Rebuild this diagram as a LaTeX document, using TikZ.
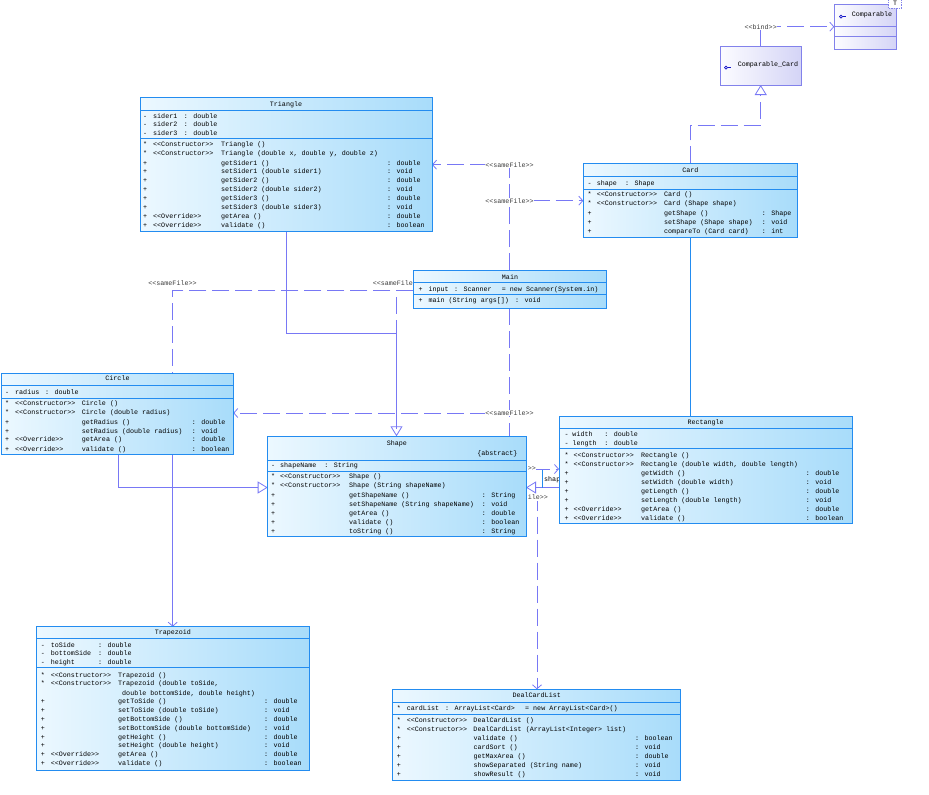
\documentclass[tikz,border=0pt]{standalone}
\usepackage{fontspec}
\newfontfamily\umlf{Liberation Mono}
\usetikzlibrary{arrows.meta}
\pgfdeclarelayer{bg}
\pgfsetlayers{bg,main}
\definecolor{boxA}{RGB}{236,248,255}
\definecolor{boxB}{RGB}{168,220,250}
\definecolor{boxD}{RGB}{35,140,240}
\definecolor{lavA}{RGB}{252,252,255}
\definecolor{lavB}{RGB}{212,212,246}
\definecolor{lavD}{RGB}{130,130,235}
\definecolor{connc}{RGB}{120,120,245}
\definecolor{lblc}{RGB}{60,60,60}
\definecolor{iconc}{RGB}{20,20,200}
\newcounter{tn}
\newcommand\sopn{<\kern0pt<}
\newcommand\sclo{>\kern0pt>}
\newcommand\setcolsx[4]{\def\ucA{#1}\def\ucB{#2}\def\ucC{#3}\def\ucD{#4}}
\newcommand\umlrow[5]{\stepcounter{tn}\node[txt] (r\thetn) at (\ucA,#1+2.3) {\makebox[\dimexpr\ucB pt-\ucA pt\relax][l]{#2}\makebox[\dimexpr\ucC pt-\ucB pt\relax][l]{#3}\makebox[\dimexpr\ucD pt-\ucC pt\relax][l]{#4}#5};}
\newcommand\umlclass[7]{\node[cls, minimum width={#4-#2}, minimum height={#5-#3}] (#1) at (#2,#3) {};
 \node[txt, anchor=base] (#1-title) at ({(#2+#4)/2},#7+2.3) {#6};}
\newcommand\sepx[3]{\draw[sepl] (#1,#3) -- (#2,#3);}
\tikzset{
 cls/.style={draw=boxD, line width=0.9pt, left color=boxA, right color=boxB, inner sep=0pt, outer sep=0pt, anchor=north west},
 lav/.style={cls, draw=lavD, left color=lavA, right color=lavB},
 sepl/.style={draw=boxD, line width=0.9pt},
 lsepl/.style={draw=lavD, line width=0.9pt},
 txt/.style={font=\umlf\fontsize{6.7}{8}\selectfont, inner sep=0pt, anchor=base west, text=black},
 lbl/.style={font=\umlf\fontsize{6.7}{8}\selectfont, text=lblc, fill=white, inner sep=0.6pt, anchor=center},
 cline/.style={draw=connc, line width=0.8pt},
 dep/.style={cline, dash pattern=on 17pt off 6pt, -{Straight Barb[length=4pt,width=9pt]}},
 depl/.style={cline, dash pattern=on 17pt off 6pt},
 openarr/.style={cline, -{Straight Barb[length=4pt,width=9pt]}},
 gen/.style={cline, -{Triangle[length=10pt,width=12pt,fill=white]}},
 real/.style={gen, dash pattern=on 17pt off 6pt},
 assoc/.style={draw=boxD, line width=0.8pt},
 icon/.style={draw=iconc, line width=0.7pt}
}
\begin{document}
\begin{tikzpicture}[x=1pt,y=-1pt]
\useasboundingbox (0,0) rectangle (929,795);

% ---------- Triangle
\umlclass{tri}{140}{97}{432}{231}{Triangle}{104}
\sepx{140}{432}{110}\sepx{140}{432}{138}
\setcolsx{143}{153}{183.7}{300}
\umlrow{115.7}{-}{sider1}{: double}{}
\umlrow{124.3}{-}{sider2}{: double}{}
\umlrow{133.3}{-}{sider3}{: double}{}
\setcolsx{143}{153}{221}{387}
\umlrow{144.3}{*}{\sopn Constructor\sclo}{Triangle ()}{}
\umlrow{153.3}{*}{\sopn Constructor\sclo}{Triangle (double x, double y, double z)}{}
\umlrow{162.7}{+}{}{getSider1 ()}{: double}
\umlrow{171.3}{+}{}{setSider1 (double sider1)}{: void}
\umlrow{180.3}{+}{}{getSider2 ()}{: double}
\umlrow{189.3}{+}{}{setSider2 (double sider2)}{: void}
\umlrow{198}{+}{}{getSider3 ()}{: double}
\umlrow{207}{+}{}{setSider3 (double sider3)}{: void}
\umlrow{216.3}{+}{\sopn Override\sclo}{getArea ()}{: double}
\umlrow{225}{+}{\sopn Override\sclo}{validate ()}{: boolean}

% ---------- Card
\umlclass{card}{583.3}{163.3}{797.3}{237.3}{Card}{170}
\sepx{583.3}{797.3}{176.7}\sepx{583.3}{797.3}{189.3}
\setcolsx{587.3}{596.7}{625}{700}
\umlrow{182.7}{-}{shape}{: Shape}{}
\setcolsx{587.3}{596.7}{664}{761.7}
\umlrow{194}{*}{\sopn Constructor\sclo}{Card ()}{}
\umlrow{203.3}{*}{\sopn Constructor\sclo}{Card (Shape shape)}{}
\umlrow{212.7}{+}{}{getShape ()}{: Shape}
\umlrow{221.7}{+}{}{setShape (Shape shape)}{: void}
\umlrow{230.7}{+}{}{compareTo (Card card)}{: int}

% ---------- Main
\umlclass{main}{413.3}{270}{606.7}{308.3}{Main}{276.7}
\sepx{413.3}{606.7}{282.3}\sepx{413.3}{606.7}{294.3}
\setcolsx{418.3}{428.3}{454}{501.7}
\umlrow{289}{+}{input}{: Scanner}{= new Scanner(System.in)}
\setcolsx{418.3}{428.3}{515}{600}
\umlrow{299.7}{+}{main (String args[])}{: void}{}

% ---------- Circle
\umlclass{circ}{1.7}{373.3}{233.3}{454.3}{Circle}{378.3}
\sepx{1.7}{233.3}{385.7}\sepx{1.7}{233.3}{398.3}
\setcolsx{5}{15}{45}{100}
\umlrow{391.7}{-}{radius}{: double}{}
\setcolsx{5}{15}{81.7}{191.7}
\umlrow{403.3}{*}{\sopn Constructor\sclo}{Circle ()}{}
\umlrow{412.3}{*}{\sopn Constructor\sclo}{Circle (double radius)}{}
\umlrow{421.7}{+}{}{getRadius ()}{: double}
\umlrow{430.7}{+}{}{setRadius (double radius)}{: void}
\umlrow{439.3}{+}{\sopn Override\sclo}{getArea ()}{: double}
\umlrow{448.7}{+}{\sopn Override\sclo}{validate ()}{: boolean}

% ---------- Shape
\umlclass{shp}{267.7}{436.3}{526}{536.3}{Shape}{442.7}
\node[txt, anchor=base east] (shp-abs) at (517.7,455) {\{abstract\}};
\sepx{267.7}{526}{460.3}\sepx{267.7}{526}{471}
\setcolsx{271}{280}{324.3}{400}
\umlrow{465.3}{-}{shapeName}{: String}{}
\setcolsx{271}{280}{349}{481.7}
\umlrow{476}{*}{\sopn Constructor\sclo}{Shape ()}{}
\umlrow{485}{*}{\sopn Constructor\sclo}{Shape (String shapeName)}{}
\umlrow{494.7}{+}{}{getShapeName ()}{: String}
\umlrow{503.7}{+}{}{setShapeName (String shapeName)}{: void}
\umlrow{512.7}{+}{}{getArea ()}{: double}
\umlrow{522}{+}{}{validate ()}{: boolean}
\umlrow{531.3}{+}{}{toString ()}{: String}

% ---------- Rectangle
\umlclass{rect}{559}{416}{852.3}{523}{Rectangle}{422}
\sepx{559}{852.3}{428.7}\sepx{559}{852.3}{448.7}
\setcolsx{564.3}{572.3}{604.3}{700}
\umlrow{433.7}{-}{width}{: double}{}
\umlrow{442.7}{-}{length}{: double}{}
\setcolsx{564.3}{573.3}{641}{805.7}
\umlrow{454.7}{*}{\sopn Constructor\sclo}{Rectangle ()}{}
\umlrow{464}{*}{\sopn Constructor\sclo}{Rectangle (double width, double length)}{}
\umlrow{472.7}{+}{}{getWidth ()}{: double}
\umlrow{482}{+}{}{setWidth (double width)}{: void}
\umlrow{491}{+}{}{getLength ()}{: double}
\umlrow{499.7}{+}{}{setLength (double length)}{: void}
\umlrow{508.7}{+}{\sopn Override\sclo}{getArea ()}{: double}
\umlrow{518}{+}{\sopn Override\sclo}{validate ()}{: boolean}

% ---------- Trapezoid
\umlclass{trap}{36.7}{626.7}{309}{770}{Trapezoid}{632.3}
\sepx{36.7}{309}{638}\sepx{36.7}{309}{667.3}
\setcolsx{40.7}{50.7}{98}{200}
\umlrow{644.7}{-}{toSide}{: double}{}
\umlrow{653.3}{-}{bottomSide}{: double}{}
\umlrow{662.3}{-}{height}{: double}{}
\setcolsx{40.7}{50.7}{118}{264}
\umlrow{674.7}{*}{\sopn Constructor\sclo}{Trapezoid ()}{}
\umlrow{683.3}{*}{\sopn Constructor\sclo}{Trapezoid (double toSide,}{}
\umlrow{692.7}{}{}{\ double bottomSide, double height)}{}
\umlrow{701.3}{+}{}{getToSide ()}{: double}
\umlrow{710}{+}{}{setToSide (double toSide)}{: void}
\umlrow{719}{+}{}{getBottomSide ()}{: double}
\umlrow{728}{+}{}{setBottomSide (double bottomSide)}{: void}
\umlrow{736.7}{+}{}{getHeight ()}{: double}
\umlrow{745}{+}{}{setHeight (double height)}{: void}
\umlrow{754}{+}{\sopn Override\sclo}{getArea ()}{: double}
\umlrow{763.3}{+}{\sopn Override\sclo}{validate ()}{: boolean}

% ---------- DealCardList
\umlclass{deal}{392.7}{689.3}{680.7}{780.3}{DealCardList}{695}
\sepx{392.7}{680.7}{702}\sepx{392.7}{680.7}{714.3}
\setcolsx{396.7}{406.7}{445}{525}
\umlrow{707.7}{*}{cardList}{: ArrayList<Card>}{= new ArrayList<Card>()}
\setcolsx{396.7}{406.7}{473.3}{635}
\umlrow{720}{*}{\sopn Constructor\sclo}{DealCardList ()}{}
\umlrow{728.7}{*}{\sopn Constructor\sclo}{DealCardList (ArrayList<Integer> list)}{}
\umlrow{738}{+}{}{validate ()}{: boolean}
\umlrow{747}{+}{}{cardSort ()}{: void}
\umlrow{756}{+}{}{getMaxArea ()}{: double}
\umlrow{765}{+}{}{showSeparated (String name)}{: void}
\umlrow{773.7}{+}{}{showResult ()}{: void}

% ---------- Comparable (interface)
\node[lav, minimum width=62.4, minimum height=45.3] (comp) at (834.3,4) {};
\draw[lsepl] (comp.west |- 0,26.7) -- (comp.east |- 0,26.7);
\draw[lsepl] (comp.west |- 0,36.7) -- (comp.east |- 0,36.7);
\node[txt, anchor=west] (comp-t) at (851.7,15) {Comparable};
\draw[icon] (841,16.7) circle[radius=1.5pt];
\draw[icon] (842.5,16.7) -- (846,16.7);
\node[draw=lavD, dash pattern=on 1.5pt off 1pt, fill=white, minimum width=13, minimum height=9, txt, anchor=center] (tpar) at (895,3.5) {T};

% ---------- Comparable_Card
\node[lav, minimum width=81, minimum height=39] (ccard) at (720.7,46) {};
\node[txt, anchor=west] (ccard-t) at (737.7,65) {Comparable\_Card};
\draw[icon] (726,67.7) circle[radius=1.5pt];
\draw[icon] (727.5,67.7) -- (731,67.7);

% ---------- connectors (behind boxes)
\begin{pgfonlayer}{bg}
\coordinate (k1) at (286,333);
\coordinate (k2) at (396.5,333);
\draw[gen] (k1 |- tri.south) -- (k1) -- (k2) -- (k2 |- shp.north);
\coordinate (k3) at (118,487.5);
\draw[gen] (k3 |- circ.south) -- (k3) -- (k3 -| shp.west);
\coordinate (k4) at (542.7,487.5);
\draw[gen] (k4 -| rect.west) -- (k4 -| shp.east);
\coordinate (s1) at (542.7,469);
\draw[assoc] (s1) -- (k4);
\node[txt, anchor=west, text=black] (shaplbl) at (544,479.5) {shape};
\coordinate (k5) at (690,125);
\coordinate (k6) at (760.7,125);
\draw[assoc] (k5 |- card.south) -- (k5 |- rect.north);
\draw[real] (k5 |- card.north) -- (k5) -- (k6) -- (k6 |- ccard.south);
\coordinate (k7) at (760.7,26.7);
\draw[dep] (k7 |- ccard.north) -- (k7) -- (k7 -| comp.west);

\coordinate (h1) at (509.5,164.7);
\coordinate (h2) at (509.5,200.7);
\coordinate (h3) at (509.5,413);
\coordinate (h4) at (509.5,469);
\coordinate (h5) at (509.5,498);
\coordinate (h6) at (537,498);
\draw[depl] (main.north -| h1) -- (h1);
\draw[dep] (h1) -- (h1 -| tri.east);
\draw[dep] (h2) -- (h2 -| card.west);
\draw[depl] (main.south -| h1) -- (h5);
\draw[dep] (h3) -- (h3 -| circ.east);
\draw[dep] (h4) -- (h4 -| rect.west);
\draw[dep] (h5) -- (h6) -- (h6 |- deal.north);

\coordinate (l1) at (172.7,290.7);
\draw[depl] (main.west |- l1) -- (l1) -- (l1 |- circ.north);
\draw[openarr] (l1 |- circ.south) -- (l1 |- trap.north);
\coordinate (l2) at (396.5,297);
\draw[depl] (l2) -- (l2 |- shp.north);

\node[lbl] (lb1) at (h1) {\sopn sameFile\sclo};
\node[lbl] (lb2) at (h2) {\sopn sameFile\sclo};
\node[lbl] (lb3) at (h3) {\sopn sameFile\sclo};
\node[lbl, anchor=west] (lb4) at (527,469) {\sclo};
\node[lbl, anchor=west] (lb5) at (527,497.5) {ile\sclo};
\node[lbl] (lb6) at (172.5,283.3) {\sopn sameFile\sclo};
\node[lbl, anchor=west] (lb7) at (372,283.3) {\sopn sameFile};
\node[lbl] (lb8) at (k7) {\sopn bind\sclo};
\end{pgfonlayer}
\end{tikzpicture}
\end{document}
